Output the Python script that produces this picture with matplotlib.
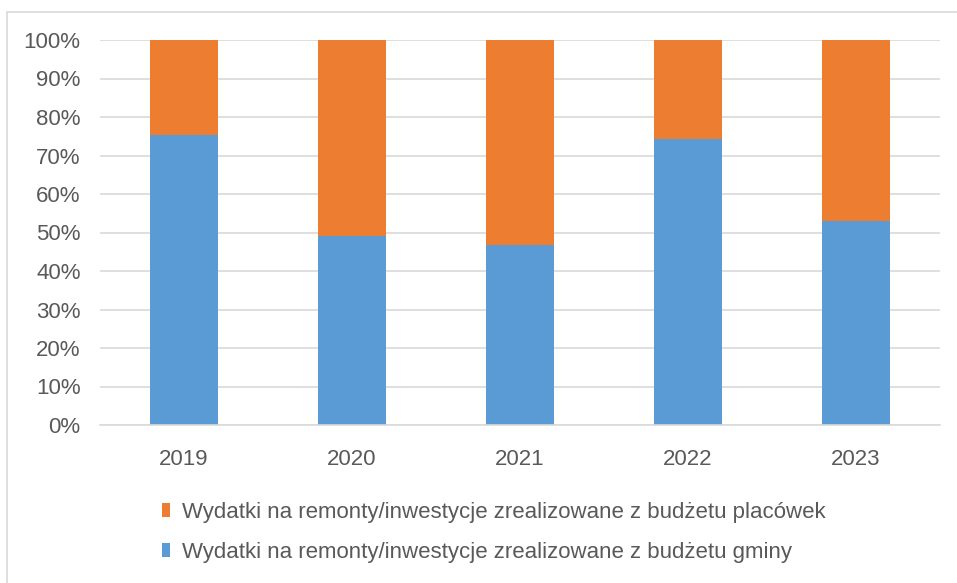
import matplotlib
matplotlib.use("Agg")
import matplotlib.pyplot as plt
from matplotlib.patches import Rectangle
import numpy as np

# data (share of spending, %)
years = ["2019", "2020", "2021", "2022", "2023"]
share_gmina = [75.2, 49.0, 46.7, 74.2, 53.0]
share_placowki = [100 - v for v in share_gmina]
label_placowki = "Wydatki na remonty/inwestycje zrealizowane z budżetu placówek"
label_gmina = "Wydatki na remonty/inwestycje zrealizowane z budżetu gminy"
y_ticks = [0, 10, 20, 30, 40, 50, 60, 70, 80, 90, 100]

BLUE = "#5B9BD5"
ORANGE = "#ED7D31"
GRID = "#D9D9D9"
TEXT = "#595959"
FS = 16

plt.rcParams["font.family"] = ["Liberation Sans", "DejaVu Sans"]

W, H = 957, 583
fig = plt.figure(figsize=(W / 100, H / 100), dpi=100)
ax = fig.add_axes([100 / W, 1 - 425 / H, 840 / W, 385 / H])

x = np.arange(len(years))
b_gmina = ax.bar(x, share_gmina, width=0.4, color=BLUE, zorder=3,
                 label=label_gmina)
b_plac = ax.bar(x, share_placowki, width=0.4, bottom=share_gmina,
                color=ORANGE, zorder=3, label=label_placowki)

ax.set_xlim(-0.5, len(years) - 0.5)
ax.set_ylim(0, 100)
ax.set_yticks(y_ticks)
ax.set_yticklabels([f"{t}%" for t in y_ticks])
ax.set_xticks(x)
ax.set_xticklabels(years)
ax.yaxis.grid(True, color=GRID, linewidth=1.2, zorder=0)
ax.tick_params(axis="both", length=0, colors=TEXT, labelsize=FS)
ax.tick_params(axis="y", pad=14)
ax.tick_params(axis="x", pad=17)
for side in ["top", "right", "left"]:
    ax.spines[side].set_visible(False)
ax.spines["bottom"].set_color(GRID)
ax.spines["bottom"].set_linewidth(1.2)
ax.spines["bottom"].set_zorder(4)

leg = fig.legend(handles=[b_plac, b_gmina], loc="upper left",
                 bbox_to_anchor=(162 / W, 1 - 502 / H), frameon=False,
                 fontsize=FS, handlelength=0.36, handleheight=0.63,
                 handletextpad=0.55, labelspacing=0.84, labelcolor=TEXT,
                 borderpad=0, borderaxespad=0)

# light chart-area border
fig.patches.append(Rectangle((7 / W, -0.01), 1.0, 1 - 12 / H + 0.01,
                             transform=fig.transFigure, fill=False,
                             edgecolor=GRID, linewidth=1.2))

fig.savefig("out.png", dpi=100)
